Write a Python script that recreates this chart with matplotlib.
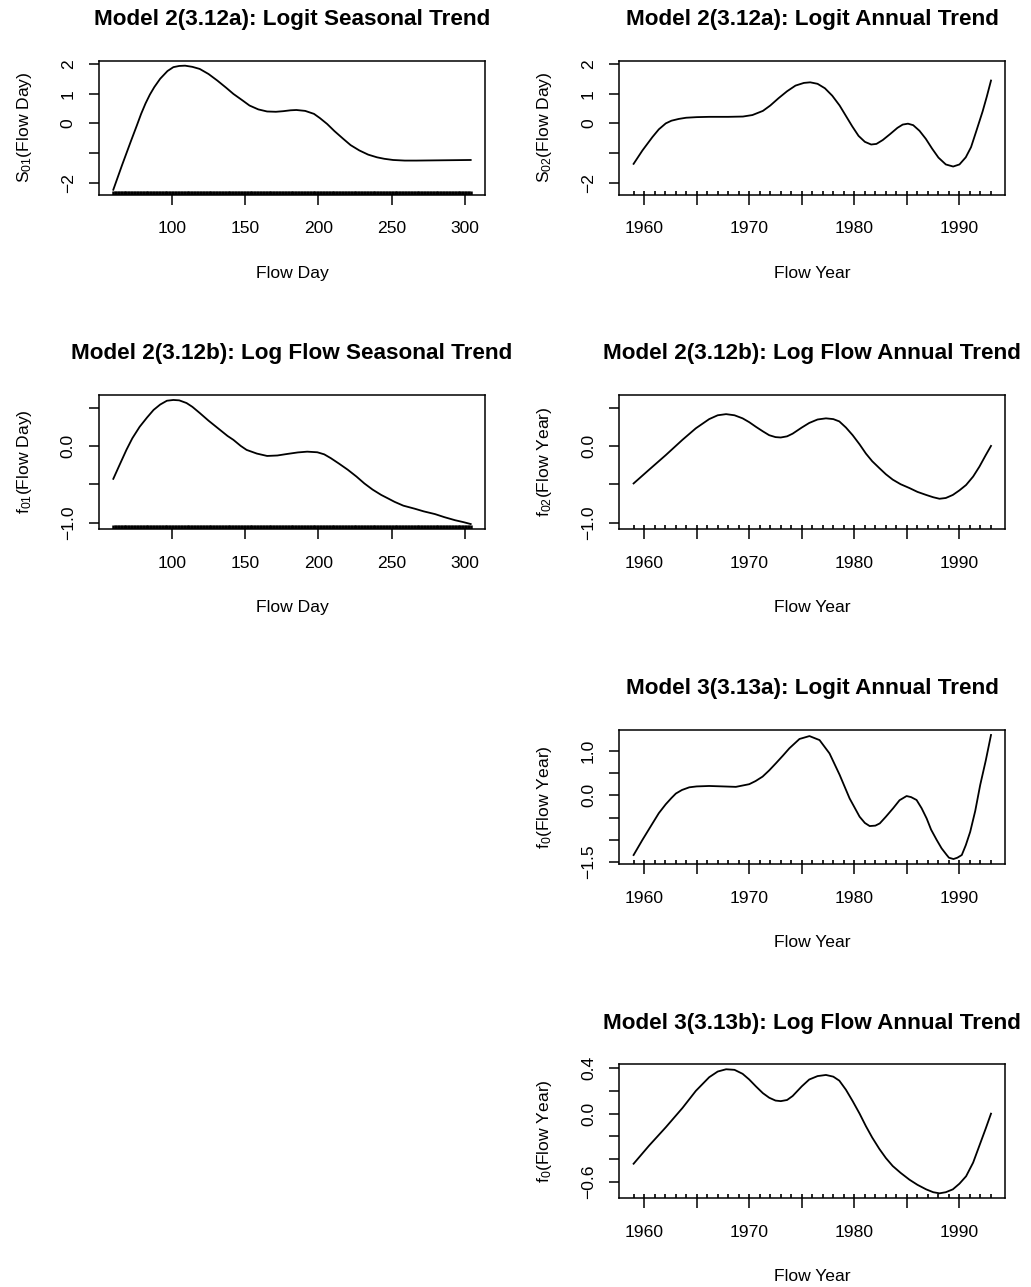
import numpy as np
import matplotlib
matplotlib.use('Agg')
from matplotlib import pyplot as plt

plt.rcParams['font.family'] = ['Liberation Sans', 'DejaVu Sans']
plt.rcParams['mathtext.default'] = 'regular'

# observation positions drawn as rugs
rug_days = np.arange(60, 305)
rug_years = np.arange(1959, 1994)

# Model 2 (3.12a) logit seasonal trend
seas_a_x = [60, 66, 72, 76, 79, 82, 85, 88, 92, 97, 101, 105, 109, 114, 119, 125,
            131, 137, 142, 148, 153, 159, 165, 171, 176, 181, 185, 191, 197, 201,
            206, 211, 217, 222, 228, 234, 240, 245, 251, 259, 267, 285, 304]
seas_a_y = [-2.23, -1.40, -0.60, -0.08, 0.32, 0.67, 0.97, 1.22, 1.50, 1.76, 1.89,
            1.93, 1.94, 1.90, 1.83, 1.66, 1.44, 1.20, 0.99, 0.78, 0.60, 0.47,
            0.40, 0.39, 0.41, 0.44, 0.45, 0.42, 0.32, 0.18, -0.02, -0.26, -0.52,
            -0.73, -0.91, -1.05, -1.14, -1.19, -1.23, -1.25, -1.25, -1.24, -1.23]

# Model 2 (3.12a) logit annual trend
ann_a_x = [1959, 1959.84, 1960.79, 1961.4, 1962.06, 1962.6, 1963.3, 1964, 1965,
           1966.2, 1968, 1969.4, 1970.3, 1971.3, 1972, 1972.8, 1973.6, 1974.4,
           1975.2, 1975.8, 1976.5, 1977.2, 1977.9, 1978.6, 1979.2, 1979.8,
           1980.4, 1981, 1981.6, 1982.1, 1982.7, 1983.4, 1984.1, 1984.6, 1985.1,
           1985.6, 1986.2, 1986.8, 1987.4, 1988, 1988.7, 1989.4, 1990, 1990.6,
           1991.1, 1991.6, 1992.2, 1992.6, 1993]
ann_a_y = [-1.36, -0.91, -0.46, -0.20, 0.0, 0.09, 0.15, 0.19, 0.21, 0.22, 0.22,
           0.23, 0.28, 0.42, 0.60, 0.85, 1.08, 1.27, 1.36, 1.38, 1.33, 1.18,
           0.93, 0.60, 0.25, -0.10, -0.42, -0.62, -0.71, -0.69, -0.56, -0.36,
           -0.15, -0.04, -0.01, -0.06, -0.25, -0.52, -0.85, -1.15, -1.38, -1.45,
           -1.38, -1.14, -0.80, -0.26, 0.40, 0.90, 1.44]

# Model 2 (3.12b) log flow seasonal trend
seas_b_x = [60, 64, 69, 73, 78, 83, 87.5, 92, 96.6, 101, 105, 110, 114, 119, 125,
            132.8, 138, 142, 147, 151, 158, 165, 172, 178.7, 186, 192.4, 199.3,
            204, 208.5, 214, 220, 226, 231.4, 237, 242.9, 248, 252, 258, 265.8,
            272, 279.6, 286, 293.3, 299, 304]
seas_b_y = [-0.43, -0.26, -0.05, 0.10, 0.25, 0.37, 0.47, 0.54, 0.59, 0.60, 0.595,
            0.56, 0.51, 0.43, 0.33, 0.21, 0.13, 0.079, 0.0, -0.052, -0.10,
            -0.131, -0.125, -0.105, -0.085, -0.075, -0.083, -0.11, -0.16, -0.23,
            -0.31, -0.40, -0.49, -0.57, -0.64, -0.69, -0.73, -0.78, -0.82, -0.855,
            -0.89, -0.93, -0.97, -0.995, -1.02]

# Model 2 (3.12b) log flow annual trend
ann_b_x = [1959, 1960.48, 1962.06, 1963.65, 1964.92, 1966.19, 1967, 1967.8,
           1968.6, 1969.37, 1970, 1970.63, 1971.3, 1971.9, 1972.5, 1973.0, 1973.6,
           1974.13, 1975, 1975.71, 1976.5, 1977.3, 1978, 1978.57, 1979.2, 1979.84,
           1980.5, 1981.1, 1981.7, 1982.38, 1983, 1983.65, 1984.4, 1985.24, 1986,
           1986.83, 1987.5, 1988.1, 1988.7, 1989.37, 1990, 1990.63, 1991.3,
           1991.9, 1992.5, 1993]
ann_b_y = [-0.49, -0.31, -0.12, 0.08, 0.23, 0.35, 0.40, 0.415, 0.40, 0.36, 0.31,
           0.25, 0.19, 0.14, 0.115, 0.11, 0.125, 0.16, 0.24, 0.30, 0.345, 0.36,
           0.35, 0.32, 0.24, 0.14, 0.02, -0.10, -0.20, -0.29, -0.37, -0.44, -0.50,
           -0.55, -0.60, -0.64, -0.67, -0.69, -0.68, -0.64, -0.58, -0.51, -0.40,
           -0.27, -0.12, 0.0]

# Model 3 (3.13a) logit annual trend
m3_a_x = [1959, 1959.84, 1960.8, 1961.4, 1962.06, 1962.6, 1963.02, 1963.6,
          1964.3, 1965, 1966.19, 1967.5, 1968.73, 1970, 1970.6, 1971.27, 1971.9,
          1972.54, 1973.2, 1973.82, 1974.78, 1975.73, 1976.69, 1977.64, 1978.6,
          1979.55, 1980.5, 1981.0, 1981.46, 1982.0, 1982.42, 1983.0, 1983.69,
          1984.3, 1984.97, 1985.4, 1985.92, 1986.4, 1986.88, 1987.3, 1987.83,
          1988.3, 1988.79, 1989.0, 1989.43, 1989.8, 1990.22, 1990.6, 1991.02,
          1991.5, 1991.97, 1992.5, 1993]
m3_a_y = [-1.34, -1.0, -0.63, -0.40, -0.20, -0.06, 0.04, 0.12, 0.18, 0.20, 0.21,
          0.20, 0.19, 0.25, 0.32, 0.42, 0.56, 0.72, 0.89, 1.056, 1.265, 1.33,
          1.24, 0.94, 0.46, -0.07, -0.48, -0.62, -0.69, -0.68, -0.63, -0.48,
          -0.29, -0.11, -0.016, -0.04, -0.105, -0.29, -0.52, -0.77, -1.00, -1.19,
          -1.34, -1.40, -1.43, -1.40, -1.34, -1.12, -0.82, -0.35, 0.23, 0.78,
          1.355]

# Model 3 (3.13b) log flow annual trend
m3_b_x = [1959, 1960.48, 1962.06, 1963.65, 1964.92, 1966.19, 1967, 1967.8,
          1968.6, 1969.37, 1970, 1970.63, 1971.3, 1971.9, 1972.5, 1973.0, 1973.6,
          1974.13, 1975, 1975.71, 1976.5, 1977.3, 1978, 1978.57, 1979.2, 1979.84,
          1980.5, 1981.1, 1981.7, 1982.38, 1983, 1983.65, 1984.4, 1985.24, 1986,
          1986.83, 1987.5, 1988.1, 1988.7, 1989.37, 1990, 1990.63, 1991.3,
          1991.9, 1992.5, 1993]
m3_b_y = [-0.44, -0.28, -0.12, 0.05, 0.20, 0.32, 0.37, 0.39, 0.385, 0.35, 0.30,
          0.24, 0.18, 0.14, 0.115, 0.11, 0.12, 0.155, 0.24, 0.30, 0.33, 0.34,
          0.325, 0.29, 0.21, 0.11, 0.0, -0.11, -0.21, -0.31, -0.39, -0.46, -0.52,
          -0.58, -0.625, -0.665, -0.69, -0.70, -0.69, -0.665, -0.615, -0.55,
          -0.43, -0.28, -0.13, 0.0]

day_ticks = [100, 150, 200, 250, 300]
year_ticks = [1960, 1965, 1970, 1975, 1980, 1985, 1990]
year_labels = ['1960', '', '1970', '', '1980', '', '1990']

W, H = 1031, 1287
FS = 12.6


def r_lim(*series):
  lo = min(min(s) for s in series)
  hi = max(max(s) for s in series)
  r = hi - lo
  return lo - 0.04 * r, hi + 0.04 * r


def panel(fig, left, top, x, y, ylim, yticks, ylabels, title, xlabel, ylabel,
          rug, rug_lw, xticks, xlabels):
  w, h = 386, 134
  ax = fig.add_axes([left / W, 1 - (top + h) / H, w / W, h / H])
  ax.plot(x, y, color='black', lw=1.3, solid_joinstyle='round')
  ax.vlines(rug, 0, 0.03, transform=ax.get_xaxis_transform(), color='black',
            lw=rug_lw)
  ax.set_xlim(r_lim(x))
  ax.set_ylim(ylim)
  ax.set_xticks(xticks)
  ax.set_xticklabels(xlabels)
  ax.set_yticks(yticks)
  ax.set_yticklabels(ylabels, rotation=90, va='center')
  ax.tick_params(direction='out', length=7.2, width=1.1, labelsize=FS)
  ax.tick_params(axis='x', pad=12.0)
  ax.tick_params(axis='y', pad=9.5)
  for s in ax.spines.values():
    s.set_linewidth(1.1)
  ax.set_title(title, fontsize=16.2, fontweight='bold', pad=25.7)
  ax.set_xlabel(xlabel, fontsize=FS, va='top')
  ax.xaxis.set_label_coords(0.5, -71 / h)
  ax.set_ylabel(ylabel, fontsize=FS)
  ax.yaxis.set_label_coords(-65 / w, 0.5)
  return ax


fig = plt.figure(figsize=(W / 100, H / 100), dpi=100)

lim_a = r_lim(seas_a_y, ann_a_y)
lim_b = r_lim(seas_b_y, ann_b_y)
yt_a = [-2, -1, 0, 1, 2]
yl_a = ['\u22122', '', '0', '1', '2']
yt_b = [-1.0, -0.5, 0.0, 0.5]
yl_b = ['\u22121.0', '', '0.0', '']
day_labels = [str(t) for t in day_ticks]

panel(fig, 99, 60.7, seas_a_x, seas_a_y, lim_a, yt_a, yl_a,
      'Model 2(3.12a): Logit Seasonal Trend', 'Flow Day',
      'S$_{01}$(Flow Day)', rug_days, 1.8, day_ticks, day_labels)
panel(fig, 619.3, 60.7, ann_a_x, ann_a_y, lim_a, yt_a, yl_a,
      'Model 2(3.12a): Logit Annual Trend', 'Flow Year',
      'S$_{02}$(Flow Day)', rug_years, 1.2, year_ticks, year_labels)
panel(fig, 99, 395, seas_b_x, seas_b_y, lim_b, yt_b, yl_b,
      'Model 2(3.12b): Log Flow Seasonal Trend', 'Flow Day',
      'f$_{01}$(Flow Day)', rug_days, 1.8, day_ticks, day_labels)
panel(fig, 619.3, 395, ann_b_x, ann_b_y, lim_b, yt_b, yl_b,
      'Model 2(3.12b): Log Flow Annual Trend', 'Flow Year',
      'f$_{02}$(Flow Year)', rug_years, 1.2, year_ticks, year_labels)
panel(fig, 619.3, 730, m3_a_x, m3_a_y, r_lim(m3_a_y),
      [-1.5, -1.0, -0.5, 0.0, 0.5, 1.0], ['\u22121.5', '', '', '0.0', '', '1.0'],
      'Model 3(3.13a): Logit Annual Trend', 'Flow Year',
      'f$_{0}$(Flow Year)', rug_years, 1.2, year_ticks, year_labels)
panel(fig, 619.3, 1064.3, m3_b_x, m3_b_y, r_lim(m3_b_y),
      [-0.6, -0.4, -0.2, 0.0, 0.2, 0.4], ['\u22120.6', '', '', '0.0', '', '0.4'],
      'Model 3(3.13b): Log Flow Annual Trend', 'Flow Year',
      'f$_{0}$(Flow Year)', rug_years, 1.2, year_ticks, year_labels)

fig.savefig('out.png', dpi=100)
